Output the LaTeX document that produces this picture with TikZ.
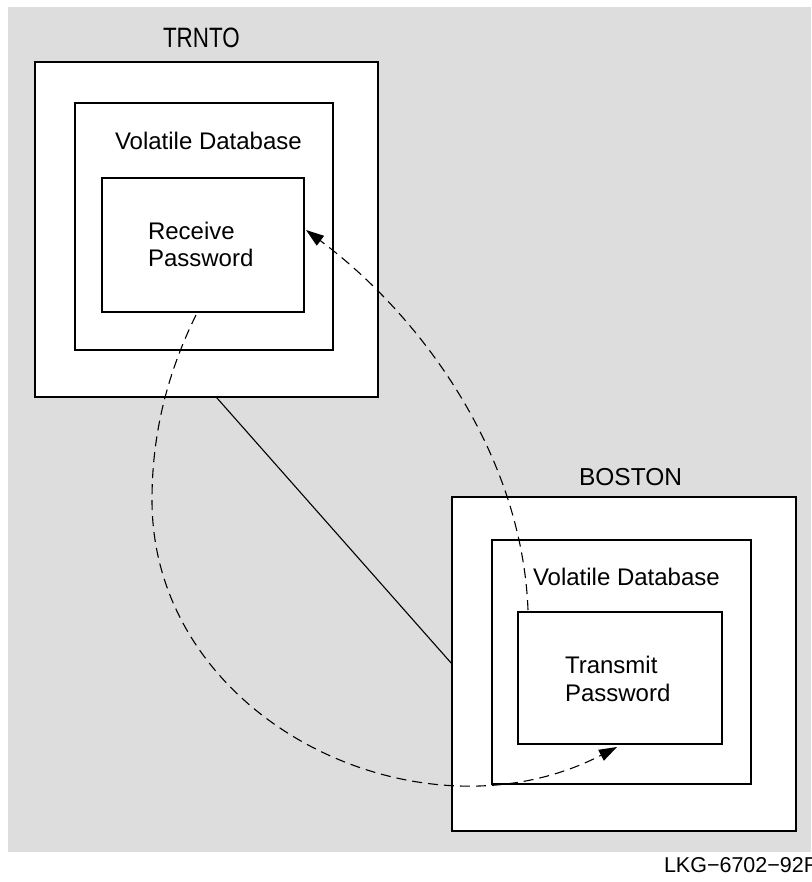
\documentclass[tikz,border=0pt]{standalone}
\usepackage{fontspec}
\setmainfont{Liberation Sans}
\usetikzlibrary{arrows.meta,calc}
\definecolor{bggrey}{RGB}{221,221,221}
\tikzset{
  box/.style={draw=black, fill=white, line width=2pt, rectangle, inner sep=0pt, outer sep=0pt},
  lbl/.style={inner sep=0pt, outer sep=0pt, anchor=base west, font=\fontsize{24}{28}\selectfont},
  link/.style={line width=1.1pt},
  flow/.style={line width=1.1pt, dash pattern=on 10pt off 6pt, -{Triangle[length=18pt,width=12pt]}}
}
\begin{document}
\begin{tikzpicture}[x=1pt,y=-1pt]
\useasboundingbox (0,0) rectangle (811,882);
\fill[bggrey] (8,7) rectangle (811,852);
% TRNTO
\node[box, minimum width=343pt, minimum height=335pt] (trOuter) at (206.5,229.5) {};
\node[box, minimum width=258pt, minimum height=247pt] (trMid) at (204,226.5) {};
\node[box, minimum width=202pt, minimum height=134pt] (trIn) at (203,245) {};
% BOSTON
\node[box, minimum width=344pt, minimum height=334pt] (boOuter) at (624,664) {};
\node[box, minimum width=259pt, minimum height=244pt] (boMid) at (621.5,662) {};
\node[box, minimum width=204pt, minimum height=132pt] (boIn) at (620,678) {};
% labels
\node[lbl, font=\fontsize{28}{32}\selectfont] (trName) at (163,48) {\scalebox{0.8}[1]{TRNTO}};
\node[lbl] (trDb) at (115,150) {Volatile Database};
\node[lbl, align=left] (trPw) at (148,267) {Receive\\Password};
\node[lbl, font=\fontsize{24.5}{28}\selectfont] (boName) at (579,485) {BOSTON};
\node[lbl] (boDb) at (533,585) {Volatile Database};
\node[lbl, align=left] (boPw) at (565,701) {Transmit\\Password};
\node[lbl, font=\fontsize{21.5}{24}\selectfont] (fig) at (664,872) {LKG−6702−92R};
% connectors
\draw[link] ($(trOuter.south west)!0.528!(trOuter.south east)$) -- (boOuter.west);
\coordinate (s1) at ($(boIn.north west)+(10,-2)$);
\coordinate (e1) at ($(trIn.east)+(2,-15)$);
\draw[flow] (s1) .. controls ($(s1)+(-6,-157)$) and ($(e1)+(114,85)$) .. (e1);
\coordinate (s2) at ($(trIn.south)+(-7,3)$);
\coordinate (m2) at (152,500);
\coordinate (e2) at ($(boIn.south)+(-3,3)$);
\draw[flow] (s2) .. controls ($(s2)+(-27,55)$) and ($(m2)+(0,-70)$) .. (m2)
  .. controls ($(m2)+(0,220)$) and ($(e2)+(-197,102)$) .. (e2);
\end{tikzpicture}
\end{document}
